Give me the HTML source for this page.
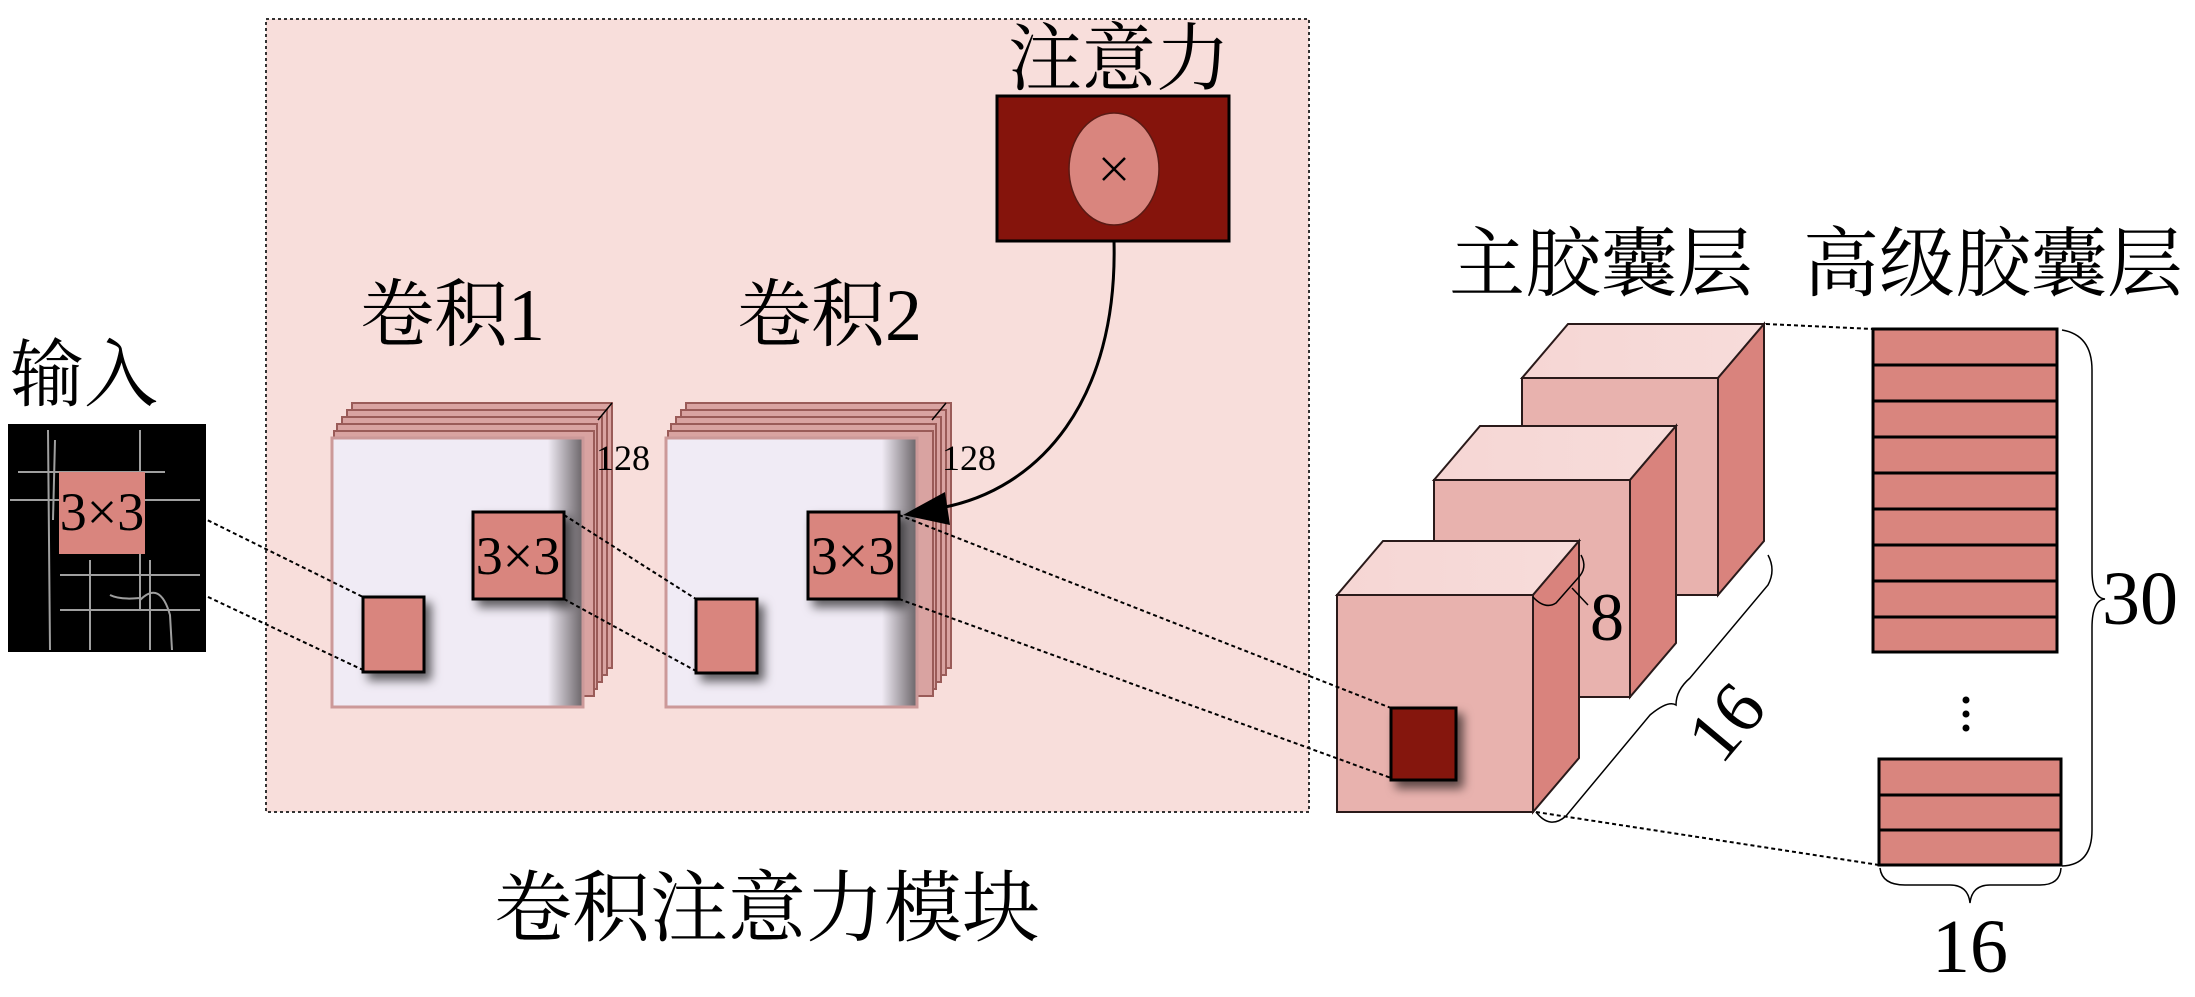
<!DOCTYPE html>
<html><head><meta charset="utf-8"><style>
html,body{margin:0;padding:0;background:#fff;}
svg{display:block;}
text{font-family:"Liberation Serif","Times New Roman","Noto Serif CJK SC",serif;fill:#000;}
</style></head><body>
<svg width="2195" height="997" viewBox="0 0 2195 997" xmlns="http://www.w3.org/2000/svg" font-family="Liberation Serif, Noto Serif CJK SC, serif">
<defs>
<filter id="sh" x="-30%" y="-30%" width="180%" height="180%"><feDropShadow dx="6" dy="7" stdDeviation="5" flood-color="#000" flood-opacity="0.6"/></filter>
<linearGradient id="fg" x1="0" x2="1" y1="0" y2="0"><stop offset="0.86" stop-color="#f0ebf5"/><stop offset="1" stop-color="#6a6468"/></linearGradient>
<linearGradient id="tg" x1="0" x2="1"><stop offset="0" stop-color="#f6d6d4"/><stop offset="1" stop-color="#f7dcda"/></linearGradient>
</defs>
<rect x="266" y="19" width="1043" height="793" fill="#f8dedb" stroke="#333" stroke-width="2" stroke-dasharray="3,3"/>
<text x="1119" y="84" font-size="74" text-anchor="middle">注意力</text>
<rect x="997" y="96" width="232" height="145" fill="#85140c" stroke="#000" stroke-width="3"/>
<ellipse cx="1114" cy="169" rx="45" ry="56" fill="#d9857e" stroke="#5a1a14" stroke-width="1.5"/>
<path d="M1103 158 L1125 180 M1125 158 L1103 180" stroke="#000" stroke-width="2.5"/>
<text x="10" y="400" font-size="74">输入</text>
<rect x="8" y="424" width="198" height="228" fill="#000"/>
<g stroke="#bbb" stroke-width="2" fill="none" opacity="0.85">
<path d="M48 430 L50 650 M55 440 L53 520 M18 472 L165 472 M140 430 L140 610 M60 610 L200 610 M60 575 L200 575 M90 560 L90 650 M150 560 L150 650 M140 600 Q160 580 170 615 L172 650 M10 500 L200 500 M110 595 Q120 600 140 598"/>
</g>
<rect x="59" y="472" width="86" height="82" fill="#d9857e"/>
<text x="102" y="530" font-size="54" text-anchor="middle">3×3</text>
<text x="360" y="340" font-size="74">卷积1</text>
<g stroke="#9a5b58" stroke-width="2" fill="#d9a3a1">
<rect x="352" y="403" width="260" height="265"/>
<rect x="347" y="410" width="260" height="265"/>
<rect x="342" y="417" width="260" height="265"/>
<rect x="337" y="424" width="260" height="265"/>
<rect x="334" y="431" width="260" height="265"/>
</g>
<rect x="332" y="438" width="251" height="269" fill="url(#fg)" stroke="#c99" stroke-width="3"/>
<path d="M598 420 L612 403" stroke="#000" stroke-width="1.5"/>
<text x="596" y="470" font-size="36">128</text>
<rect x="363" y="597" width="61" height="75" fill="#d9857e" stroke="#000" stroke-width="3" filter="url(#sh)"/>
<rect x="473" y="512" width="91" height="87" fill="#d9857e" stroke="#000" stroke-width="3" filter="url(#sh)"/>
<text x="518" y="574" font-size="54" text-anchor="middle">3×3</text>
<text x="737" y="340" font-size="74">卷积2</text>
<g stroke="#9a5b58" stroke-width="2" fill="#d9a3a1">
<rect x="686" y="403" width="265" height="265"/>
<rect x="681" y="410" width="265" height="265"/>
<rect x="676" y="417" width="265" height="265"/>
<rect x="671" y="424" width="265" height="265"/>
<rect x="668" y="431" width="265" height="265"/>
</g>
<rect x="666" y="438" width="251" height="269" fill="url(#fg)" stroke="#c99" stroke-width="3"/>
<path d="M932 420 L946 403" stroke="#000" stroke-width="1.5"/>
<text x="942" y="470" font-size="36">128</text>
<rect x="696" y="599" width="61" height="74" fill="#d9857e" stroke="#000" stroke-width="3" filter="url(#sh)"/>
<rect x="808" y="512" width="91" height="87" fill="#d9857e" stroke="#000" stroke-width="3" filter="url(#sh)"/>
<text x="853" y="574" font-size="54" text-anchor="middle">3×3</text>
<path d="M1114 241 C1118 400 1040 490 940 508" fill="none" stroke="#000" stroke-width="3"/>
<polygon points="903,515 945,492 950,525" fill="#000"/>
<text x="767" y="935" font-size="78" text-anchor="middle">卷积注意力模块</text>
<g stroke="#2a1a1a" stroke-width="2">
<polygon points="1522,378 1568,324 1764,324 1718,378" fill="url(#tg)"/>
<polygon points="1718,378 1764,324 1764,541 1718,595" fill="#d9837d"/>
<rect x="1522" y="378" width="196" height="217" fill="#e8b2ae"/>
<polygon points="1434,480 1480,426 1676,426 1630,480" fill="url(#tg)"/>
<polygon points="1630,480 1676,426 1676,643 1630,697" fill="#d9837d"/>
<rect x="1434" y="480" width="196" height="217" fill="#e8b2ae"/>
<polygon points="1337,595 1383,541 1579,541 1533,595" fill="url(#tg)"/>
<polygon points="1533,595 1579,541 1579,758 1533,812" fill="#d9837d"/>
<rect x="1337" y="595" width="196" height="217" fill="#e8b2ae"/>
</g>
<rect x="1391" y="708" width="65" height="72" fill="#85140c" stroke="#000" stroke-width="3" filter="url(#sh)"/>
<path d="M1533 597 Q1545 610 1556 603 L1578 578 Q1588 568 1581 555 M1572 588 L1588 605" fill="none" stroke="#000" stroke-width="1.5"/>
<text x="1607" y="640" font-size="68" text-anchor="middle">8</text>
<path d="M1536 812 Q1550 830 1566 816 L1650 715 Q1668 700 1676 705 Q1676 690 1690 678 L1768 585 Q1776 570 1768 555" fill="none" stroke="#000" stroke-width="1.5"/>
<text x="0" y="0" font-size="74" text-anchor="middle" transform="translate(1745,738) rotate(-50)">16</text>
<g stroke="#000" stroke-width="2" stroke-dasharray="4,3" fill="none">
<path d="M189 511 L363 597 M189 588 L363 670"/>
<path d="M564 515 L696 599 M564 599 L696 671"/>
<path d="M899 515 L1391 708 M899 599 L1391 778"/>
<path d="M1766 324 L1873 329 M1536 812 L1879 865"/>
</g>
<text x="1449" y="290" font-size="76">主胶囊层</text>
<text x="1803" y="290" font-size="76">高级胶囊层</text>
<g fill="#d9857e" stroke="#000" stroke-width="3">
<rect x="1873" y="329" width="184" height="323"/>
<rect x="1879" y="759" width="182" height="106"/>
</g>
<g stroke="#000" stroke-width="3">
<path d="M1873 365 H2057 M1873 401 H2057 M1873 437 H2057 M1873 473 H2057 M1873 509 H2057 M1873 545 H2057 M1873 581 H2057 M1873 617 H2057"/>
<path d="M1879 795 H2061 M1879 830 H2061"/>
</g>
<circle cx="1966" cy="700" r="3.5" fill="#000"/><circle cx="1966" cy="714" r="3.5" fill="#000"/><circle cx="1966" cy="728" r="3.5" fill="#000"/>
<path d="M2062 330 Q2092 335 2092 370 L2092 570 Q2092 598 2105 599 Q2092 600 2092 628 L2092 830 Q2092 865 2062 866" fill="none" stroke="#000" stroke-width="1.5"/>
<text x="2102" y="624" font-size="76">30</text>
<path d="M1880 868 Q1882 885 1905 885 L1950 885 Q1968 885 1970 903 Q1972 885 1990 885 L2040 885 Q2060 885 2061 868" fill="none" stroke="#000" stroke-width="1.5"/>
<text x="1970" y="972" font-size="76" text-anchor="middle">16</text>
</svg>
</body></html>
